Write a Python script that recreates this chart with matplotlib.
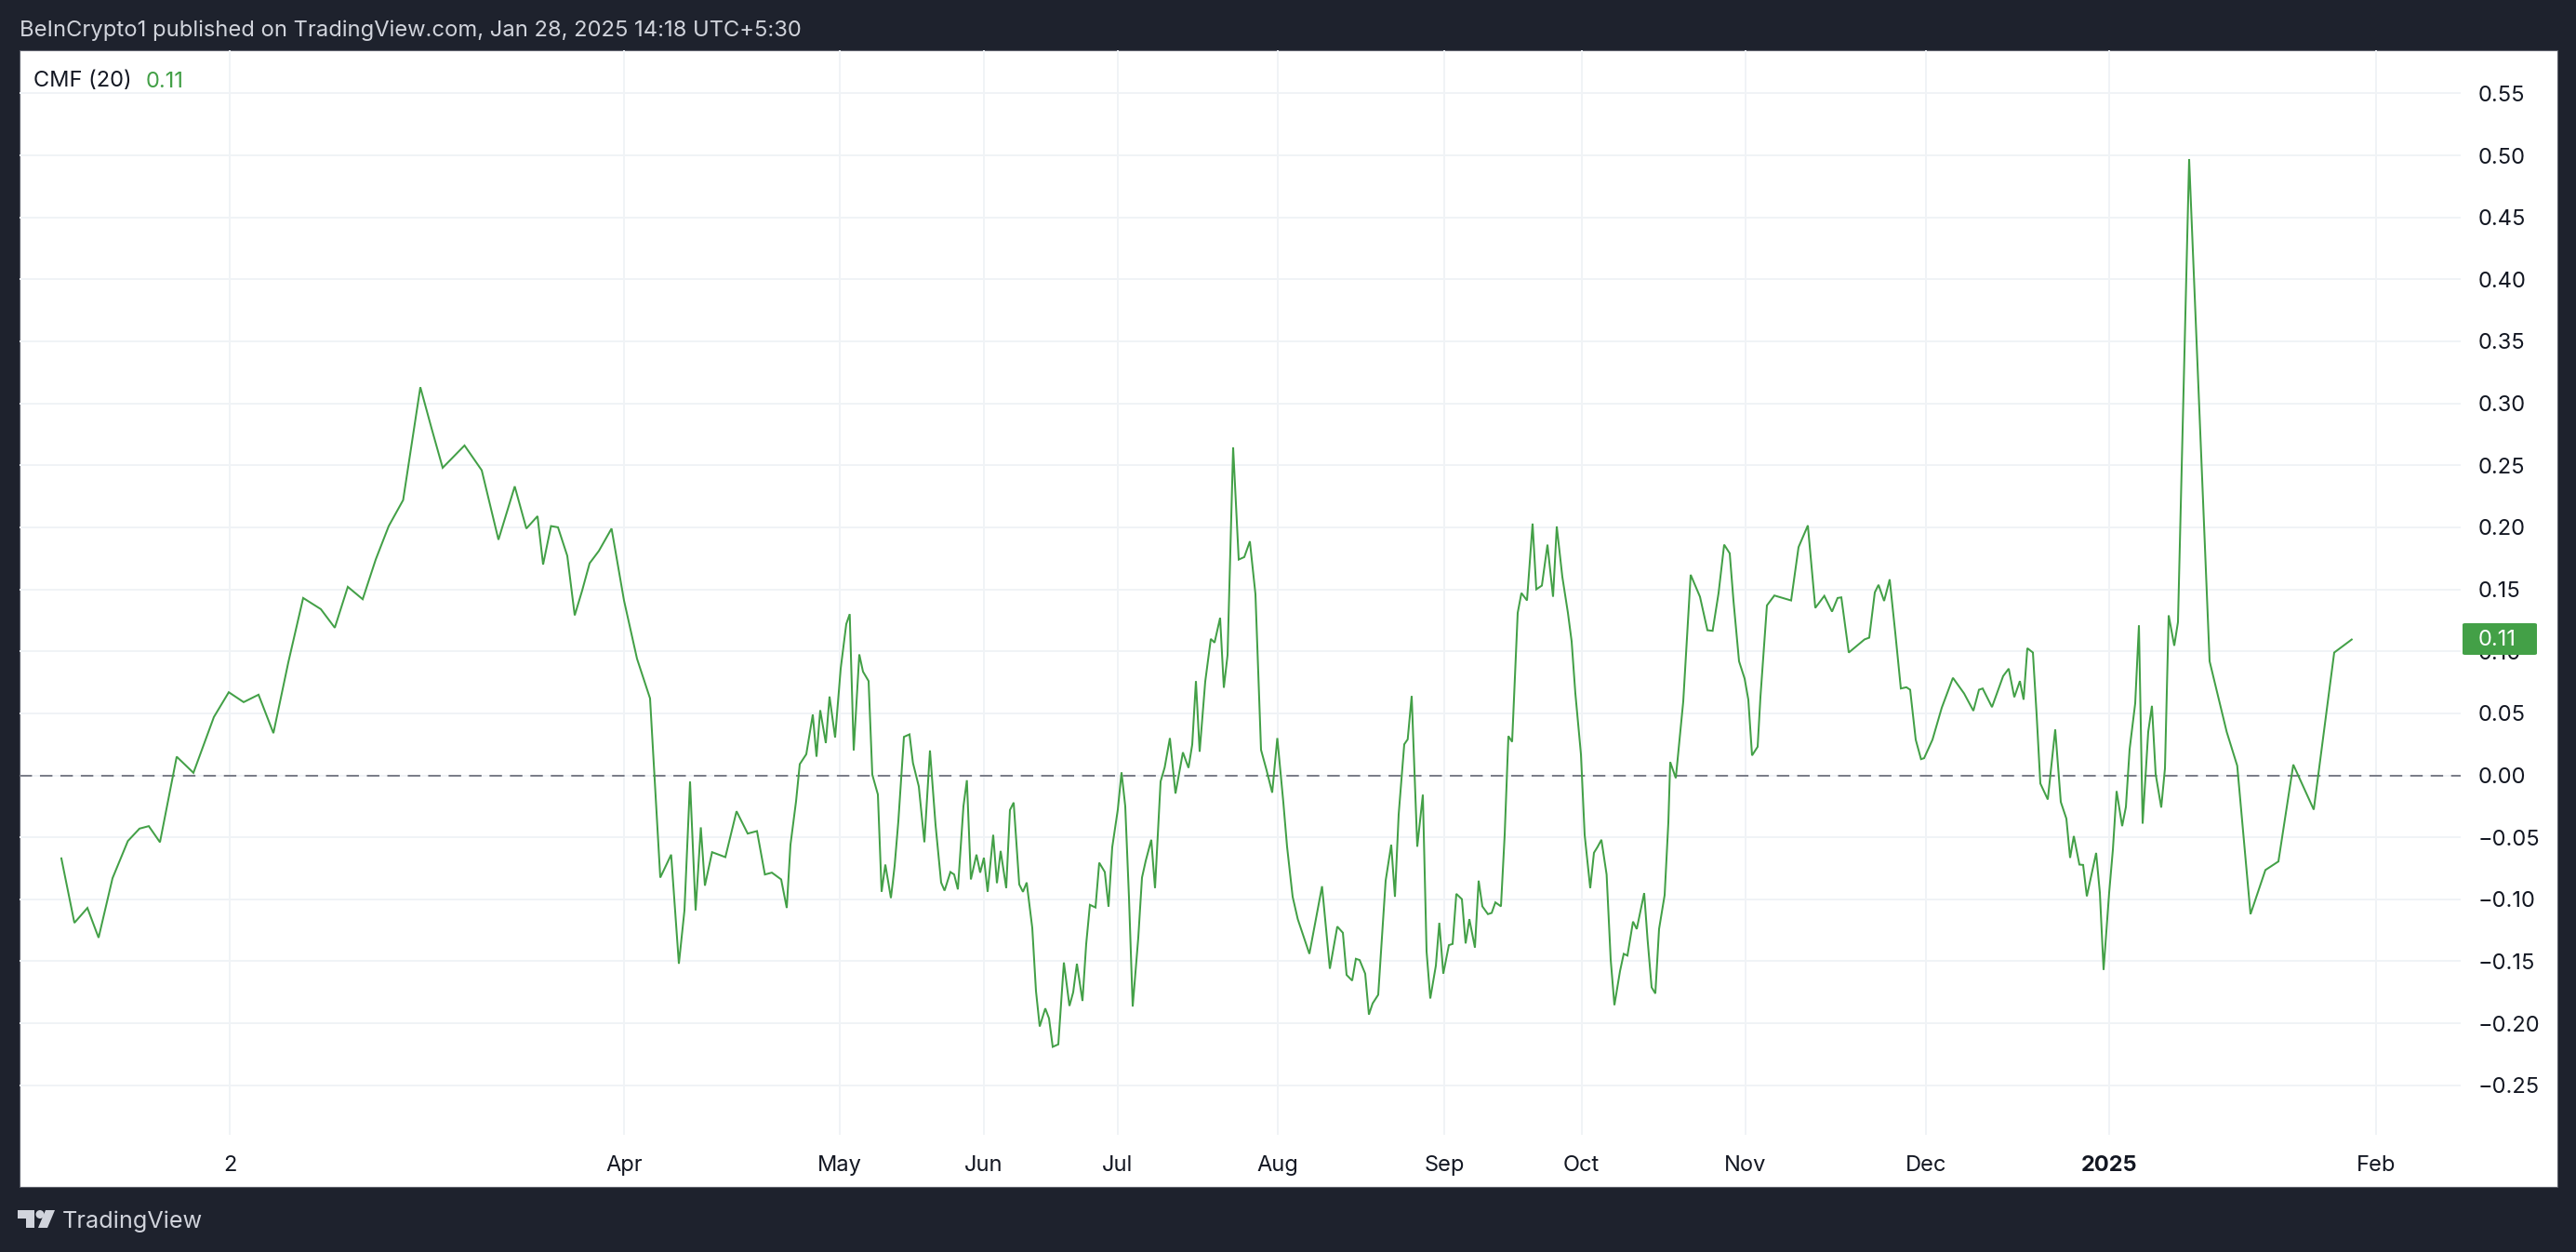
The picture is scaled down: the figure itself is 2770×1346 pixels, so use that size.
import matplotlib
matplotlib.use("Agg")
import matplotlib.pyplot as plt
from matplotlib.patches import Polygon, Ellipse, Rectangle, FancyBboxPatch

W, H = 2770, 1346
BG = "#1e222d"
GREEN = "#43a047"
GRID = "#f0f3f6"
TEXT = "#131722"

pos_1 = [66,80,94,106,121,137.5,150,160,172,190,208,230,246,262,278,294,310,326,345,360,374,390,404,418,433.5,452,464,476,499.5,518,536,553.5,566,578,584,592.5,600,610,618,626,634,644,657.6,671,685,699]
cmf_1 = [-0.067,-0.119,-0.107,-0.131,-0.083,-0.053,-0.043,-0.041,-0.054,0.015,0.002,0.047,0.067,0.059,0.065,0.034,0.091,0.143,0.134,0.119,0.152,0.142,0.174,0.201,0.222,0.313,0.280,0.248,0.266,0.246,0.190,0.233,0.199,0.209,0.170,0.201,0.200,0.177,0.129,0.149,0.171,0.181,0.199,0.141,0.094,0.062]

pos_2 = [710,721.7,730,736,742,748,753.6,758,765.7,780,792,804,814,822.5,830,840,846,850,856,860,867,874,878,882,888,892,898,904,910,913.7,918,924,928,934,938,944,948,952,958,962,966,972,978,981.7,988,994,1000,1006,1012,1015.7,1022,1026,1030,1036,1039.7,1044,1050,1054,1058,1062,1068,1072,1076,1082,1086,1090,1096,1100,1104,1110,1114,1118,1124,1128,1132,1138,1144,1150,1154,1158,1164,1168,1172,1178,1182,1188,1192,1196,1202,1206,1210,1214,1218,1224,1228,1232,1238,1242,1248,1252.4,1258,1264,1272,1278,1282,1286,1290,1296]
cmf_2 = [-0.0825,-0.064,-0.152,-0.109,-0.005,-0.109,-0.042,-0.089,-0.062,-0.066,-0.029,-0.047,-0.045,-0.080,-0.0785,-0.084,-0.107,-0.056,-0.021,0.009,0.017,0.049,0.015,0.0525,0.026,0.0635,0.0305,0.086,0.122,0.130,0.020,0.0975,0.0836,0.076,0.0005,-0.0155,-0.094,-0.072,-0.099,-0.073,-0.037,0.031,0.033,0.010,-0.009,-0.054,0.020,-0.040,-0.0865,-0.093,-0.078,-0.080,-0.092,-0.025,-0.004,-0.084,-0.064,-0.0785,-0.0665,-0.094,-0.048,-0.087,-0.061,-0.091,-0.028,-0.022,-0.088,-0.094,-0.0865,-0.123,-0.174,-0.2026,-0.188,-0.196,-0.219,-0.217,-0.151,-0.186,-0.175,-0.152,-0.182,-0.136,-0.1045,-0.1066,-0.0705,-0.078,-0.106,-0.058,-0.0276,0.0024,-0.025,-0.0986,-0.1865,-0.131,-0.0825,-0.069,-0.052,-0.091,-0.005,0.0064,0.030,-0.0147,0.0185,0.006,0.0247,0.076,0.019,0.0756]

pos_3 = [1302,1306,1312,1316,1320,1326,1332,1338,1344,1350,1356,1362,1368,1373.5,1380,1384,1390,1395.5,1408,1421.6,1430,1438,1444,1448,1454,1458,1462,1468,1472,1476,1482,1490,1496,1500,1504,1510,1513.7,1518,1524,1530,1534,1538,1544,1547.7,1552,1558,1562,1566,1572,1576,1580,1586,1590,1594,1600,1604,1608,1614,1618,1622,1626,1632,1636,1642,1648,1652,1658,1664,1670,1674,1680,1686,1690,1694,1700,1704,1710,1714,1718,1722,1727.6,1732,1736,1742,1746,1750,1756,1760,1768,1771.6,1776,1780,1784,1790,1794,1796,1802,1810,1818,1828,1836,1841.6,1848,1854,1860,1864,1870,1876,1880,1884,1890,1893]
cmf_3 = [0.110,0.107,0.127,0.0706,0.097,0.2645,0.174,0.176,0.1887,0.146,0.0205,0.004,-0.014,0.030,-0.022,-0.0576,-0.098,-0.116,-0.144,-0.0895,-0.156,-0.122,-0.127,-0.161,-0.1656,-0.148,-0.149,-0.160,-0.193,-0.184,-0.177,-0.085,-0.056,-0.098,-0.0316,0.025,0.029,0.064,-0.0576,-0.0156,-0.142,-0.180,-0.1535,-0.119,-0.160,-0.137,-0.136,-0.0956,-0.0999,-0.1356,-0.116,-0.139,-0.085,-0.1057,-0.112,-0.111,-0.1025,-0.1057,-0.048,0.0316,0.027,0.131,0.147,0.141,0.203,0.150,0.153,0.186,0.144,0.2007,0.160,0.131,0.108,0.066,0.017,-0.048,-0.091,-0.0625,-0.0576,-0.052,-0.080,-0.1487,-0.1854,-0.158,-0.144,-0.1454,-0.118,-0.124,-0.095,-0.132,-0.171,-0.176,-0.124,-0.0966,-0.038,0.0107,-0.0023,0.0595,0.1617,0.144,0.117,0.1165,0.147,0.186,0.179,0.141,0.092,0.078,0.061,0.016,0.023,0.063]

pos_4 = [1900,1908,1926,1934,1944,1952,1961.7,1970,1976,1980,1988,2005,2010,2016,2020,2026,2032,2038,2044,2050,2054,2060,2065.7,2069,2078,2088,2100,2112,2122,2128,2132,2142,2154,2160,2166,2172,2176,2180,2186,2190,2194,2202,2210,2216,2222,2226,2230,2236,2240,2244,2254,2258,2262,2268,2272]
cmf_4 = [0.137,0.145,0.141,0.184,0.2015,0.135,0.1447,0.132,0.143,0.1435,0.099,0.1096,0.111,0.1475,0.1536,0.1406,0.158,0.115,0.070,0.071,0.069,0.0287,0.013,0.0138,0.0287,0.0545,0.0786,0.066,0.052,0.069,0.070,0.055,0.080,0.086,0.063,0.076,0.061,0.1025,0.099,0.049,-0.0066,-0.0195,0.037,-0.0215,-0.035,-0.0666,-0.049,-0.072,-0.0723,-0.0976,-0.0626,-0.0947,-0.157,-0.0947,-0.060]

pos_5 = [2276,2282,2286,2290,2296,2300,2304,2310,2314,2318,2324,2328,2332,2338,2342,2354,2376,2394.4,2405.7,2420,2436,2450,2466,2488,2510,2528.8]
cmf_5 = [-0.0127,-0.041,-0.0255,0.021,0.058,0.121,-0.039,0.035,0.056,0.001,-0.026,0.0055,0.129,0.1045,0.1236,0.497,0.092,0.035,0.0077,-0.112,-0.0764,-0.0695,0.0086,-0.0277,0.099,0.1095]

positions = pos_1 + pos_2 + pos_3 + pos_4 + pos_5
cmf_values = cmf_1 + cmf_2 + cmf_3 + cmf_4 + cmf_5

month_positions = [247, 671, 903, 1058, 1201.5, 1374, 1553, 1700.5, 1876.5, 2071, 2268, 2555]
month_labels = ["2", "Apr", "May", "Jun", "Jul", "Aug", "Sep", "Oct", "Nov", "Dec", "2025", "Feb"]
price_ticks = [-0.25, -0.20, -0.15, -0.10, -0.05, 0.00, 0.05, 0.10, 0.15, 0.20, 0.25, 0.30, 0.35, 0.40, 0.45, 0.50, 0.55]
last_value = 0.11

plt.rcParams["font.family"] = ["Inter", "DejaVu Sans"]
fig = plt.figure(figsize=(W / 100, H / 100), dpi=100, facecolor=BG)

def fx(p): return p / W
def fy(p): return 1 - p / H

# white panel
fig.add_artist(Rectangle((fx(21), fy(1276)), (2750 - 21) / W, (1276 - 54) / H,
                         transform=fig.transFigure, facecolor="white", edgecolor="#5d606b", lw=0.8, zorder=-5))

PL, PR, PT, PB = 21, 2646, 54, 1220
Y0 = 833.5
ax = fig.add_axes([fx(PL), fy(PB), (PR - PL) / W, (PB - PT) / H], facecolor="none")
ax.set_xlim(PL, PR)
ax.set_ylim((Y0 - PB) / 1333, (Y0 - PT) / 1333)
for s in ax.spines.values():
    s.set_visible(False)

ax.set_xticks(month_positions)
ax.set_xticklabels(month_labels)
ax.set_yticks(price_ticks)
ax.set_yticklabels([f"{t:.2f}".replace("-", "\u2212") for t in price_ticks])
ax.yaxis.tick_right()
ax.tick_params(axis="y", length=0, pad=13.5, labelsize=17, labelcolor=TEXT)
ax.tick_params(axis="x", length=0, pad=16, labelsize=17, labelcolor=TEXT)
for lbl in ax.get_xticklabels():
    if lbl.get_text() == "2025":
        lbl.set_fontweight("bold")
ax.grid(True, color=GRID, lw=1.4)
ax.set_axisbelow(True)

ax.axhline(0, color="#787b86", lw=1.4, dashes=(6.9, 4.4), zorder=2)
ax.plot(positions, cmf_values, color=GREEN, lw=1.45, solid_joinstyle="miter", zorder=3)

# last value badge on the price scale
bx0, bx1, by0, by1 = 2648, 2728, 670, 704
fig.add_artist(FancyBboxPatch((fx(bx0), fy(by1)), (bx1 - bx0) / W, (by1 - by0) / H,
                              boxstyle="round,pad=0,rounding_size=0.001",
                              transform=fig.transFigure, facecolor=GREEN, edgecolor="none", zorder=5))
fig.text(fx(2665), fy(688), f"{last_value:.2f}", color="white", fontsize=17, va="center", ha="left", zorder=6)

# legend
fig.text(fx(36), fy(87.5), "CMF (20)", color=TEXT, fontsize=17, va="center", ha="left")
fig.text(fx(157), fy(87.5), f"{last_value:.2f}", color=GREEN, fontsize=17, va="center", ha="left")

# header and footer
fig.text(fx(21), fy(33), "BeInCrypto1 published on TradingView.com, Jan 28, 2025 14:18 UTC+5:30",
         color="#d1d4dc", fontsize=17.1, va="center", ha="left")
fig.text(fx(67), fy(1313.5), "TradingView", color="#d1d4dc", fontsize=18.2, va="center", ha="left")

LOGO = "#d1d4dc"
def pts(seq): return [(fx(x), fy(y)) for x, y in seq]
fig.add_artist(Polygon(pts([(19, 1301), (37, 1301), (37, 1320), (28, 1320), (28, 1310), (19, 1310)]),
                       closed=True, transform=fig.transFigure, facecolor=LOGO, edgecolor="none"))
fig.add_artist(Ellipse((fx(43), fy(1305.5)), 9 / W, 9 / H, transform=fig.transFigure, facecolor=LOGO, edgecolor="none"))
fig.add_artist(Polygon(pts([(49, 1301), (59, 1301), (51, 1320), (41, 1320)]),
                       closed=True, transform=fig.transFigure, facecolor=LOGO, edgecolor="none"))

fig.savefig("out.png", dpi=100, facecolor=BG)
